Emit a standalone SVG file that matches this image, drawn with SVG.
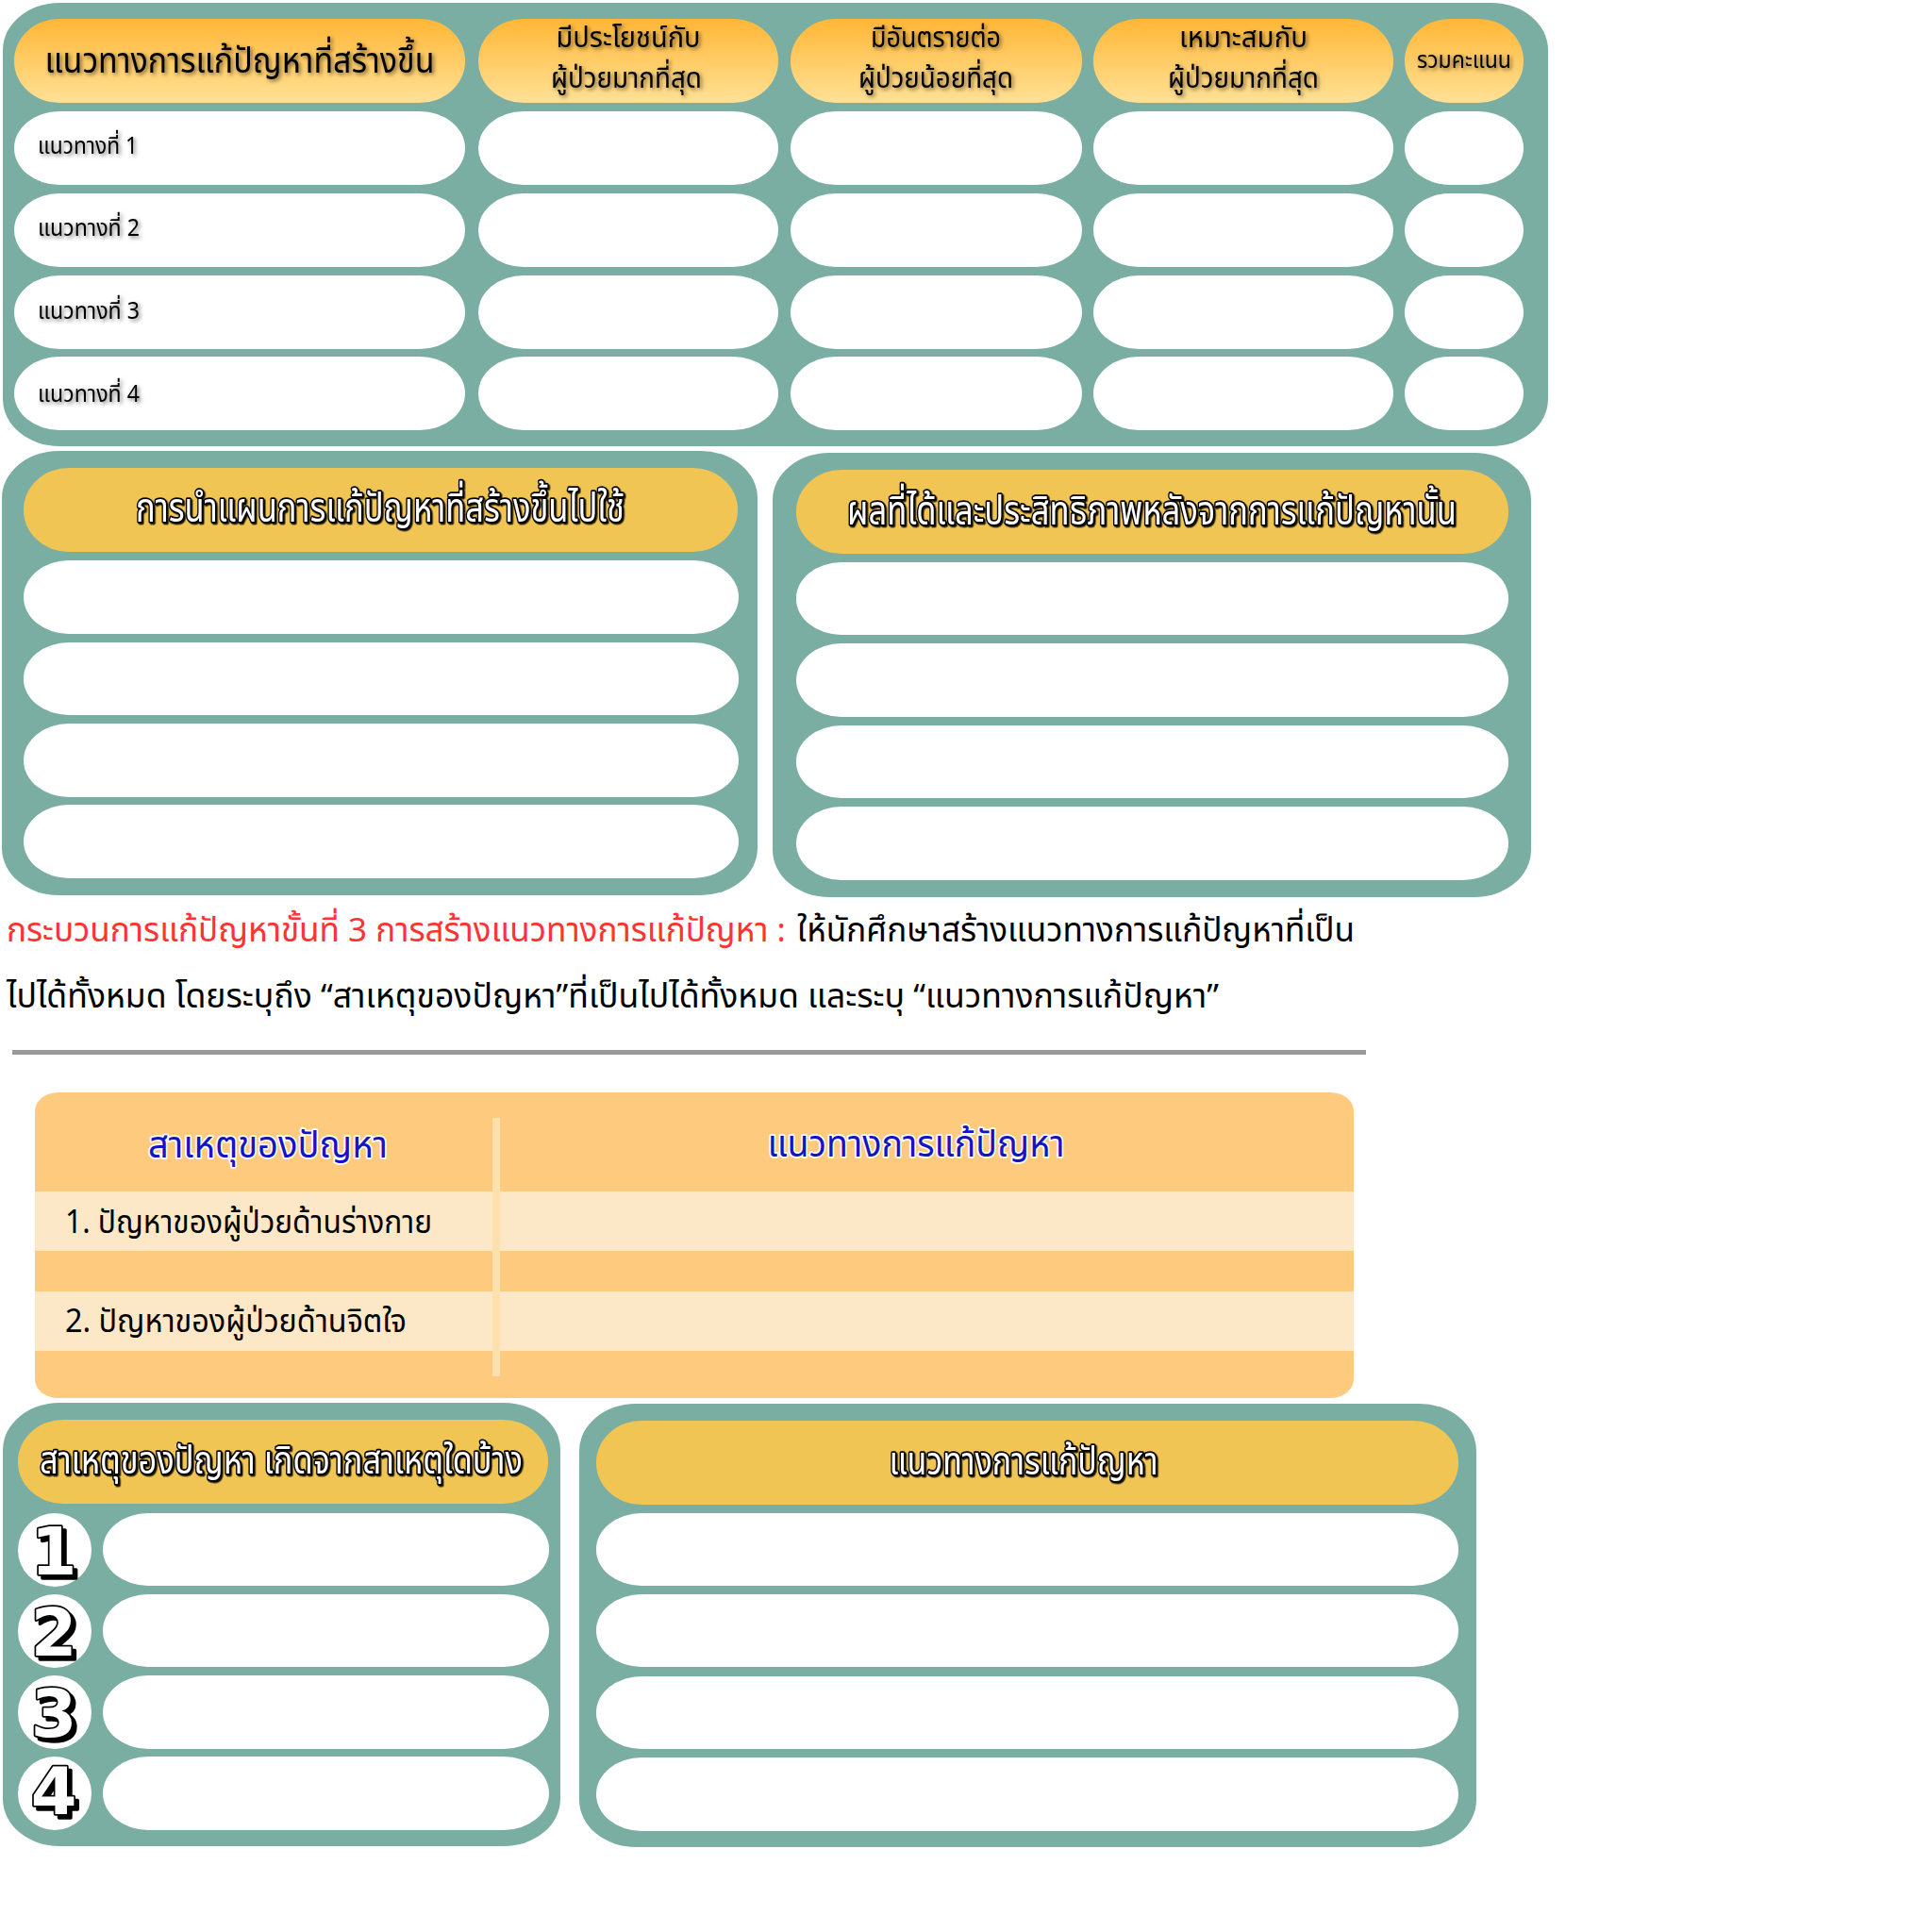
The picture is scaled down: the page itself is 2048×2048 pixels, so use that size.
<svg xmlns="http://www.w3.org/2000/svg" width="2048" height="2048" viewBox="0 0 2048 2048">
<defs>
<linearGradient id="hdrGrad" x1="0" y1="0" x2="0" y2="1">
<stop offset="0" stop-color="#FFB636"/>
<stop offset="1" stop-color="#FFE196"/>
</linearGradient>
<filter id="shadow" x="-10%" y="-30%" width="120%" height="160%">
<feDropShadow dx="2" dy="2" stdDeviation="2" flood-color="#000" flood-opacity="0.55"/>
</filter>
<filter id="shadow2" x="-10%" y="-30%" width="120%" height="160%">
<feDropShadow dx="1.5" dy="1.5" stdDeviation="0.6" flood-color="#000" flood-opacity="0.9"/>
</filter>
</defs>
<style>
.teal{fill:#7AAEA3}
.cell{fill:#FFFFFF}
.ghdr{fill:url(#hdrGrad)}
.yhdr{fill:#F1C553}
.th{font-family:"Noto Sans Thai","Noto Sans","DejaVu Sans",sans-serif}
.blk{fill:#000}
.sh{filter:url(#shadow)}
.outl{fill:#FFFFFF;stroke:#000;stroke-width:3.5;paint-order:stroke;stroke-linejoin:round;filter:url(#shadow2)}
.blue{fill:#1414C4;stroke:#FFFFFF;stroke-width:3.5;paint-order:stroke;stroke-linejoin:round}
.num{font-family:"DejaVu Sans","Liberation Sans",sans-serif;font-weight:bold;font-size:70px;text-anchor:middle}
.numw{fill:#FFFFFF;stroke:#000;stroke-width:3.5;paint-order:stroke;stroke-linejoin:round}
.numb{fill:#000;stroke:#000;stroke-width:3.5;stroke-linejoin:round}
</style>
<rect width="2048" height="2048" fill="#FFFFFF"/>

<g id="evaluation-table">
<rect class="teal" x="3" y="3" width="1638" height="470" rx="60" ry="50"/>
<g id="eval-headers">
<rect class="ghdr" x="15" y="20" width="478" height="89" rx="48" ry="44"/>
<rect class="ghdr" x="507" y="20" width="318" height="89" rx="48" ry="44"/>
<rect class="ghdr" x="838" y="20" width="309" height="89" rx="48" ry="44"/>
<rect class="ghdr" x="1159" y="20" width="318" height="89" rx="48" ry="44"/>
<rect class="ghdr" x="1489" y="20" width="126" height="89" rx="48" ry="44"/>
<text class="th blk sh" x="254" y="77" font-size="38" text-anchor="middle" textLength="413" lengthAdjust="spacingAndGlyphs">แนวทางการแก้ปัญหาที่สร้างขึ้น</text>
<text class="th blk sh" x="666" y="50" font-size="30" text-anchor="middle" textLength="153" lengthAdjust="spacingAndGlyphs">มีประโยชน์กับ</text>
<text class="th blk sh" x="664" y="93" font-size="30" text-anchor="middle" textLength="160" lengthAdjust="spacingAndGlyphs">ผู้ป่วยมากที่สุด</text>
<text class="th blk sh" x="992" y="50" font-size="30" text-anchor="middle" textLength="138" lengthAdjust="spacingAndGlyphs">มีอันตรายต่อ</text>
<text class="th blk sh" x="992" y="93" font-size="30" text-anchor="middle" textLength="164" lengthAdjust="spacingAndGlyphs">ผู้ป่วยน้อยที่สุด</text>
<text class="th blk sh" x="1318" y="50" font-size="30" text-anchor="middle" textLength="136" lengthAdjust="spacingAndGlyphs">เหมาะสมกับ</text>
<text class="th blk sh" x="1318" y="93" font-size="30" text-anchor="middle" textLength="160" lengthAdjust="spacingAndGlyphs">ผู้ป่วยมากที่สุด</text>
<text class="th blk sh" x="1552" y="72" font-size="25" text-anchor="middle" textLength="100" lengthAdjust="spacingAndGlyphs">รวมคะแนน</text>
</g>
<g id="eval-row-1">
<rect class="cell" x="15" y="118" width="478" height="78" rx="48" ry="39"/>
<rect class="cell" x="507" y="118" width="318" height="78" rx="48" ry="39"/>
<rect class="cell" x="838" y="118" width="309" height="78" rx="48" ry="39"/>
<rect class="cell" x="1159" y="118" width="318" height="78" rx="48" ry="39"/>
<rect class="cell" x="1489" y="118" width="126" height="78" rx="48" ry="39"/>
<text class="th blk sh" x="40" y="163" font-size="25" textLength="106" lengthAdjust="spacingAndGlyphs">แนวทางที่ 1</text>
</g>
<g id="eval-row-2">
<rect class="cell" x="15" y="205" width="478" height="78" rx="48" ry="39"/>
<rect class="cell" x="507" y="205" width="318" height="78" rx="48" ry="39"/>
<rect class="cell" x="838" y="205" width="309" height="78" rx="48" ry="39"/>
<rect class="cell" x="1159" y="205" width="318" height="78" rx="48" ry="39"/>
<rect class="cell" x="1489" y="205" width="126" height="78" rx="48" ry="39"/>
<text class="th blk sh" x="40" y="250" font-size="25" textLength="108" lengthAdjust="spacingAndGlyphs">แนวทางที่ 2</text>
</g>
<g id="eval-row-3">
<rect class="cell" x="15" y="292" width="478" height="78" rx="48" ry="39"/>
<rect class="cell" x="507" y="292" width="318" height="78" rx="48" ry="39"/>
<rect class="cell" x="838" y="292" width="309" height="78" rx="48" ry="39"/>
<rect class="cell" x="1159" y="292" width="318" height="78" rx="48" ry="39"/>
<rect class="cell" x="1489" y="292" width="126" height="78" rx="48" ry="39"/>
<text class="th blk sh" x="40" y="338" font-size="25" textLength="108" lengthAdjust="spacingAndGlyphs">แนวทางที่ 3</text>
</g>
<g id="eval-row-4">
<rect class="cell" x="15" y="378" width="478" height="78" rx="48" ry="39"/>
<rect class="cell" x="507" y="378" width="318" height="78" rx="48" ry="39"/>
<rect class="cell" x="838" y="378" width="309" height="78" rx="48" ry="39"/>
<rect class="cell" x="1159" y="378" width="318" height="78" rx="48" ry="39"/>
<rect class="cell" x="1489" y="378" width="126" height="78" rx="48" ry="39"/>
<text class="th blk sh" x="40" y="426" font-size="25" textLength="108" lengthAdjust="spacingAndGlyphs">แนวทางที่ 4</text>
</g>
</g>

<g id="apply-plan-panel">
<rect class="teal" x="2" y="478" width="801" height="471" rx="60" ry="50"/>
<rect class="yhdr" x="25" y="496" width="757" height="89" rx="48" ry="44"/>
<text class="th outl" x="403" y="553" font-size="43" text-anchor="middle" textLength="518" lengthAdjust="spacingAndGlyphs">การนำแผนการแก้ปัญหาที่สร้างขึ้นไปใช้</text>
<rect class="cell" x="25" y="594" width="758" height="78" rx="48" ry="39"/>
<rect class="cell" x="25" y="681" width="758" height="77" rx="48" ry="38"/>
<rect class="cell" x="25" y="767" width="758" height="78" rx="48" ry="39"/>
<rect class="cell" x="25" y="853" width="758" height="78" rx="48" ry="39"/>
</g>

<g id="results-panel">
<rect class="teal" x="819" y="480" width="804" height="471" rx="60" ry="50"/>
<rect class="yhdr" x="844" y="498" width="755" height="89" rx="48" ry="44"/>
<text class="th outl" x="1221" y="556" font-size="43" text-anchor="middle" textLength="646" lengthAdjust="spacingAndGlyphs">ผลที่ได้และประสิทธิภาพหลังจากการแก้ปัญหานั้น</text>
<rect class="cell" x="844" y="596" width="755" height="77" rx="48" ry="38"/>
<rect class="cell" x="844" y="682" width="755" height="78" rx="48" ry="39"/>
<rect class="cell" x="844" y="769" width="755" height="77" rx="48" ry="38"/>
<rect class="cell" x="844" y="855" width="755" height="78" rx="48" ry="39"/>
</g>

<g id="instructions">
<text class="th" x="7" y="998" font-size="35" fill="#FF3333" textLength="826" lengthAdjust="spacingAndGlyphs">กระบวนการแก้ปัญหาขั้นที่ 3 การสร้างแนวทางการแก้ปัญหา :</text>
<text class="th" x="845" y="998" font-size="35" fill="#000000" textLength="591" lengthAdjust="spacingAndGlyphs">ให้นักศึกษาสร้างแนวทางการแก้ปัญหาที่เป็น</text>
<text class="th" x="7" y="1068" font-size="35" fill="#000000" textLength="1285" lengthAdjust="spacingAndGlyphs">ไปได้ทั้งหมด โดยระบุถึง “สาเหตุของปัญหา”ที่เป็นไปได้ทั้งหมด และระบุ “แนวทางการแก้ปัญหา”</text>
<rect x="13" y="1113" width="1435" height="5" fill="#999999"/>
</g>

<g id="cause-solution-table">
<rect x="37" y="1158" width="1398" height="324" rx="25" ry="20" fill="#FDCA7E"/>
<rect x="37" y="1263" width="1398" height="63" fill="#FCE8C6"/>
<rect x="37" y="1369" width="1398" height="63" fill="#FCE8C6"/>
<rect x="522" y="1185" width="8" height="274" fill="#FCE0AE"/>
<text class="th blue" x="284" y="1227" font-size="39" text-anchor="middle" textLength="254" lengthAdjust="spacingAndGlyphs">สาเหตุของปัญหา</text>
<text class="th blue" x="971" y="1226" font-size="39" text-anchor="middle" textLength="315" lengthAdjust="spacingAndGlyphs">แนวทางการแก้ปัญหา</text>
<text class="th blk" x="69" y="1307" font-size="34" textLength="389" lengthAdjust="spacingAndGlyphs">1. ปัญหาของผู้ป่วยด้านร่างกาย</text>
<text class="th blk" x="69" y="1412" font-size="34" textLength="362" lengthAdjust="spacingAndGlyphs">2. ปัญหาของผู้ป่วยด้านจิตใจ</text>
</g>

<g id="causes-panel">
<rect class="teal" x="3" y="1487" width="591" height="470" rx="60" ry="50"/>
<rect class="yhdr" x="19" y="1505" width="562" height="89" rx="48" ry="44"/>
<text class="th outl" x="298" y="1562" font-size="41" text-anchor="middle" textLength="512" lengthAdjust="spacingAndGlyphs">สาเหตุของปัญหา เกิดจากสาเหตุใดบ้าง</text>
<g id="cause-1">
<ellipse class="cell" cx="58" cy="1643" rx="39" ry="39"/>
<rect class="cell" x="109" y="1604" width="473" height="77" rx="48" ry="38"/>
<text class="num numb" x="61" y="1673">1</text>
<text class="num numw" x="57" y="1669">1</text>
</g>
<g id="cause-2">
<ellipse class="cell" cx="58" cy="1729" rx="39" ry="39"/>
<rect class="cell" x="109" y="1690" width="473" height="77" rx="48" ry="38"/>
<text class="num numb" x="61" y="1759">2</text>
<text class="num numw" x="57" y="1755">2</text>
</g>
<g id="cause-3">
<ellipse class="cell" cx="58" cy="1815" rx="39" ry="39"/>
<rect class="cell" x="109" y="1776" width="473" height="78" rx="48" ry="39"/>
<text class="num numb" x="61" y="1845">3</text>
<text class="num numw" x="57" y="1841">3</text>
</g>
<g id="cause-4">
<ellipse class="cell" cx="58" cy="1901" rx="39" ry="39"/>
<rect class="cell" x="109" y="1862" width="473" height="78" rx="48" ry="39"/>
<text class="num numb" x="61" y="1927">4</text>
<text class="num numw" x="57" y="1923">4</text>
</g>
</g>

<g id="solutions-panel">
<rect class="teal" x="614" y="1488" width="951" height="470" rx="60" ry="50"/>
<rect class="yhdr" x="632" y="1506" width="914" height="89" rx="48" ry="44"/>
<text class="th outl" x="1085" y="1563" font-size="41" text-anchor="middle" textLength="285" lengthAdjust="spacingAndGlyphs">แนวทางการแก้ปัญหา</text>
<rect class="cell" x="632" y="1604" width="914" height="77" rx="48" ry="38"/>
<rect class="cell" x="632" y="1690" width="914" height="77" rx="48" ry="38"/>
<rect class="cell" x="632" y="1777" width="914" height="77" rx="48" ry="38"/>
<rect class="cell" x="632" y="1863" width="914" height="78" rx="48" ry="39"/>
</g>

<g id="connectors"></g>
</svg>
